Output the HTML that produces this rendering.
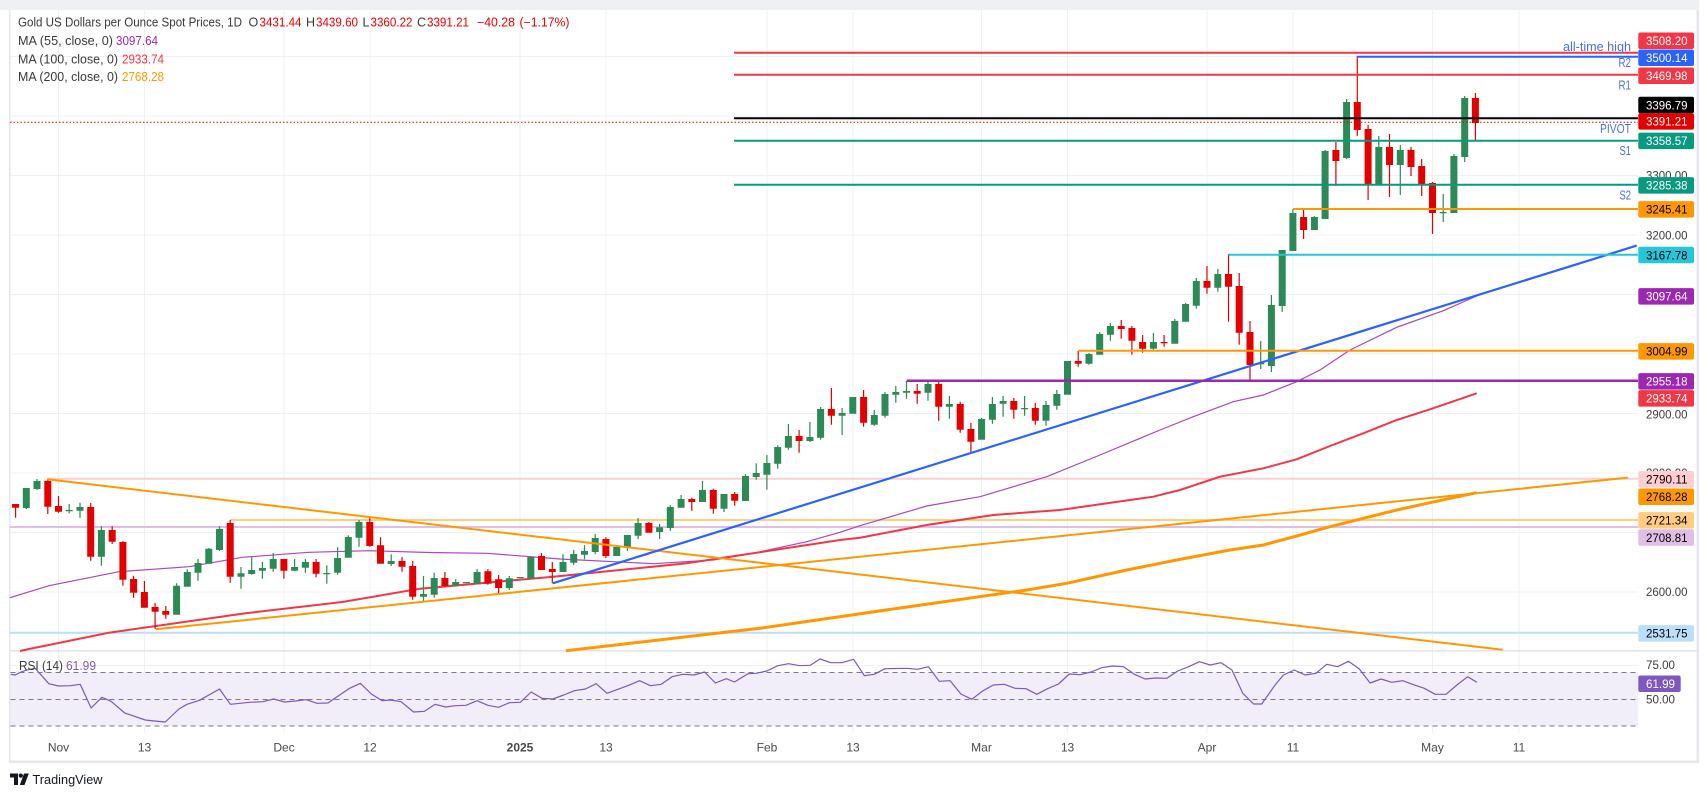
<!DOCTYPE html>
<html><head><meta charset="utf-8">
<style>
html,body{margin:0;padding:0;background:#fff;}
svg{display:block;font-family:"Liberation Sans",Arial,sans-serif;}
</style></head><body>
<svg width="1708" height="797" viewBox="0 0 1708 797" xmlns="http://www.w3.org/2000/svg">
<rect width="1708" height="797" fill="#fff"/>
<!-- frame -->
<rect x="0" y="0" width="1699" height="10" fill="#eef0f4"/>
<rect x="9" y="10" width="1.5" height="752" fill="#e4e7ed"/>
<rect x="1696.5" y="10" width="2.5" height="753" fill="#e4e7ed"/>
<rect x="9" y="760.5" width="1690" height="2.5" fill="#e4e7ed"/>

<!-- grid -->
<path d="M58.5 10V733M144.5 10V733M284 10V733M370 10V733M520 10V733M606 10V733M767 10V733M853 10V733M981.5 10V733M1067.5 10V733M1207 10V733M1293 10V733M1432.5 10V733M1519 10V733" stroke="#eef0f3" stroke-width="1" fill="none"/>
<path d="M10 56.5H1638M10 116H1638M10 175.5H1638M10 235H1638M10 294.5H1638M10 354H1638M10 413.5H1638M10 473H1638M10 532.5H1638M10 592H1638M10 665.5H1638" stroke="#eef0f3" stroke-width="1" fill="none"/>

<!-- RSI pane -->
<rect x="10.5" y="672.3" width="1627.5" height="53.7" fill="#f1edf9"/>
<path d="M10.5 672.5H1638M10.5 699.5H1638M10.5 726H1638" stroke="#787b86" stroke-width="1" stroke-dasharray="5 4" fill="none"/>
<rect x="10" y="650" width="1688" height="1.5" fill="#e0e3eb"/>
<polyline fill="none" stroke="#7e57c2" stroke-width="1.2" stroke-linejoin="round" points="10.8,674.3 15.2,675 21.7,671.7 29.8,669.3 35.2,668.3 48.8,683.7 58.5,686 70.5,685.7 80.2,684.3 91.1,708 101.9,697.3 111.1,701.3 124.7,713 145.3,720 154.5,721 165.3,722 178.9,709 187,704.3 199.5,700.3 219.5,689 230.4,704.3 249.3,702.3 262.9,701.7 273.7,699 284.6,702 295.4,701 306.2,699.7 317.1,703.3 327.9,703 349.6,688.3 360.4,683.3 371.3,694 382.1,700.7 390.2,700 401.1,701.7 413.6,712 424.4,711.3 435.2,704.3 445.5,707 455.3,705.7 466.1,705.3 477,700.7 487.8,705.3 498.6,707.3 509.5,702.7 520.3,702.3 531.2,692 542,698.3 552.8,699 563.7,695 574.5,690.7 585.4,689 596.2,683.7 607,693.3 617.9,689.3 628.7,685.3 639.6,680.7 650.4,685.7 661.2,684.3 672.1,676.7 682.9,674.3 693.8,675 704.6,672 715.4,683 726.3,678.7 734.4,682 748,673.7 756.1,673.3 766.9,671 777.8,665.7 788.6,663.7 799.5,665.7 810.3,665.3 820,659 830.8,662.7 841.7,662.7 853.6,659.3 864.4,675.7 874.2,674.3 885,668.7 906.7,668.3 917.6,669.3 928.4,666.7 939.2,681.3 950.1,680.7 960.9,694 971.8,699.3 982.6,691 993.4,685 1004.3,684.3 1015.1,688.3 1026,688.7 1036.8,694.3 1047.6,688.7 1058.5,684 1069.3,674 1080.2,674.7 1091,672 1101.8,667.7 1112.7,666 1123.5,666.7 1134.4,674.3 1145.2,679 1156,678 1166.9,678.3 1177.7,671 1188.6,666.7 1199.4,661.7 1210.2,665 1221.1,662.7 1231.9,670 1242.8,693.3 1253.6,704 1261.7,704 1275.3,684.7 1283.4,675 1294.3,670 1305.1,675 1315.9,673.3 1326.8,664.3 1337.6,666.7 1348.5,661.3 1359.3,669 1370.1,683 1381,679 1391.8,682.3 1402.7,680.7 1413.5,684.7 1424.3,688.3 1435.2,694.3 1446,694.3 1456.9,685 1467.7,676.7 1476.9,682.3"/>

<!-- light horizontal levels -->
<line x1="10" y1="527" x2="1638" y2="527" stroke="#e1bee7" stroke-width="2"/>
<line x1="10" y1="632.7" x2="1638" y2="632.7" stroke="#bbdefb" stroke-width="2"/>
<line x1="47.3" y1="478.7" x2="1638" y2="478.7" stroke="#fbcfd2" stroke-width="2"/>
<line x1="230" y1="520" x2="1638" y2="520" stroke="#ffcc80" stroke-width="2"/>

<!-- moving averages -->
<polyline fill="none" stroke="#ab47bc" stroke-width="1.2" points="10,597.7 49,585.7 119,571.7 189,566.7 242.3,557.3 309,552.3 369,550.7 429,552.5 486.7,553.3 560,559 653.3,563.7 713.3,560 753.3,553.3 806.7,541.7 840,532.3 860,525.7 926.7,506 980,496.7 1046.7,476.7 1100,455 1160,430 1193.3,416.7 1233.3,401.7 1263.3,395 1296.7,381.7 1320,370 1350,350 1396.7,327.3 1443.3,310.7 1476.7,296"/>
<polyline fill="none" stroke="#f23645" stroke-width="2" points="20,651 29,649 109,632.7 242,613.7 342.3,602 420,588.7 553.3,576.7 686.7,563.3 840,540 860,537.7 926.7,525 993.3,515 1060,510 1153.3,496.7 1180,490 1220,476.7 1263.3,468.3 1296.7,459.3 1330,446 1363.3,433.3 1396.7,420 1430,409.3 1476.7,393.3"/>
<polyline fill="none" stroke="#ff9800" stroke-width="3" points="566,650.7 762,628 900,608 1026.7,590 1066.7,583.3 1126.7,570 1176.7,560 1230,550 1263.3,545 1296.7,536 1330,526.7 1363.3,518.3 1396.7,510 1430,502.7 1476.7,492.7"/>

<!-- candles (green) -->
<path fill="#2b8a55" d="M25.7 488h1.2V509h-1.2zM22.8 488h7V508h-7zM36.4 479h1.2V490h-1.2zM33.5 481h7V489h-7zM68.6 504h1.2V513.3h-1.2zM65.7 510h7V511.2h-7zM79.4 502.7h1.2V517.7h-1.2zM76.5 507h7V510.7h-7zM100.8 526.3h1.2V565.7h-1.2zM97.9 530h7V556.7h-7zM176 583.3h1.2V614.7h-1.2zM173.1 585.7h7V614.7h-7zM186.7 569.3h1.2V586.7h-1.2zM183.8 572h7V586.7h-7zM197.4 559h1.2V580.7h-1.2zM194.5 563h7V572.7h-7zM208.2 548h1.2V563.7h-1.2zM205.3 548.7h7V563.7h-7zM218.9 526.3h1.2V551h-1.2zM216 529h7V550h-7zM240.4 567h1.2V588.7h-1.2zM237.5 573.3h7V576.7h-7zM251.1 557.3h1.2V574.7h-1.2zM248.2 570h7V574h-7zM261.8 562h1.2V578.7h-1.2zM258.9 568h7V570.7h-7zM272.6 553h1.2V571.7h-1.2zM269.7 559h7V568.7h-7zM294 559h1.2V571.3h-1.2zM291.1 567h7V570.7h-7zM304.8 559h1.2V572.7h-1.2zM301.9 562h7V567.7h-7zM326.2 565.3h1.2V583.7h-1.2zM323.3 573h7V574.2h-7zM337 547.3h1.2V574.7h-1.2zM334.1 558h7V572.7h-7zM347.7 535.3h1.2V557.7h-1.2zM344.8 537h7V557.7h-7zM358.4 520h1.2V546.7h-1.2zM355.5 522h7V537.7h-7zM390.6 554.3h1.2V566h-1.2zM387.7 561h7V564h-7zM422.9 576h1.2V601.7h-1.2zM420 594h7V596.7h-7zM433.6 572.7h1.2V597.7h-1.2zM430.7 578h7V594.7h-7zM455.1 579.3h1.2V585.7h-1.2zM452.2 582h7V585.7h-7zM465.8 582h1.2V583h-1.2zM462.9 582h7V583.2h-7zM476.5 569h1.2V583.7h-1.2zM473.6 572h7V583.7h-7zM508.7 576h1.2V590h-1.2zM505.8 578.3h7V588h-7zM519.5 577h1.2V578.3h-1.2zM516.6 577h7V578.3h-7zM530.2 556.3h1.2V578.7h-1.2zM527.3 557h7V578.7h-7zM562.4 554.3h1.2V572h-1.2zM559.5 562h7V572h-7zM573.1 550h1.2V564.7h-1.2zM570.2 554h7V562.7h-7zM583.9 545.3h1.2V559.3h-1.2zM581 551h7V554.7h-7zM594.6 534h1.2V554h-1.2zM591.7 538h7V552h-7zM616.1 547h1.2V556h-1.2zM613.2 547h7V556h-7zM626.8 535h1.2V551h-1.2zM623.9 535h7V547.7h-7zM637.5 518h1.2V539h-1.2zM634.6 523h7V535.7h-7zM659 524h1.2V539h-1.2zM656.1 527.3h7V532h-7zM669.7 505.3h1.2V531h-1.2zM666.8 507h7V528h-7zM680.5 495h1.2V507.7h-1.2zM677.6 499h7V507.7h-7zM701.9 481h1.2V502h-1.2zM699 490h7V502h-7zM723.4 494h1.2V512h-1.2zM720.5 494h7V508.7h-7zM744.9 474.3h1.2V501h-1.2zM742 476h7V501h-7zM755.6 463.3h1.2V479.7h-1.2zM752.7 473h7V477h-7zM766.3 455h1.2V489.7h-1.2zM763.4 463h7V474.7h-7zM777.1 445.3h1.2V468.7h-1.2zM774.2 447h7V463.7h-7zM787.8 424h1.2V449.7h-1.2zM784.9 436h7V447.7h-7zM809.3 422h1.2V442h-1.2zM806.4 437h7V441h-7zM820 407h1.2V439.7h-1.2zM817.1 409h7V437.7h-7zM841.5 408h1.2V435h-1.2zM838.6 413h7V415.7h-7zM852.2 397h1.2V413.7h-1.2zM849.3 397h7V413.7h-7zM873.7 410h1.2V425.7h-1.2zM870.8 415h7V424.7h-7zM884.4 392h1.2V417.7h-1.2zM881.5 394h7V415.7h-7zM895.2 386h1.2V402.7h-1.2zM892.3 392h7V394.7h-7zM905.9 381h1.2V398.7h-1.2zM903 391h7V392.7h-7zM927.4 381h1.2V400.7h-1.2zM924.5 384h7V392.7h-7zM948.8 396h1.2V418.7h-1.2zM945.9 404h7V406.7h-7zM981 418h1.2V439.7h-1.2zM978.1 419h7V439.7h-7zM991.8 397h1.2V423.7h-1.2zM988.9 404h7V419.7h-7zM1002.5 396h1.2V416.7h-1.2zM999.6 401h7V403.7h-7zM1024 396h1.2V415.7h-1.2zM1021.1 408h7V409.2h-7zM1045.4 401h1.2V425.7h-1.2zM1042.5 405h7V420.7h-7zM1056.2 390h1.2V409.7h-1.2zM1053.3 394h7V405.7h-7zM1066.9 361h1.2V394.7h-1.2zM1064 361h7V394.7h-7zM1088.4 353h1.2V364.7h-1.2zM1085.5 354h7V363.7h-7zM1099.1 332h1.2V354.7h-1.2zM1096.2 334h7V354.7h-7zM1109.8 323h1.2V340.7h-1.2zM1106.9 326h7V334.7h-7zM1152.8 333h1.2V349.7h-1.2zM1149.9 342h7V348.7h-7zM1174.2 319h1.2V343.7h-1.2zM1171.3 321h7V343.7h-7zM1185 303h1.2V321.7h-1.2zM1182.1 304h7V321.7h-7zM1195.7 278h1.2V308.7h-1.2zM1192.8 281h7V305.7h-7zM1217.2 269h1.2V291.7h-1.2zM1214.3 274h7V287.7h-7zM1260.1 341h1.2V369h-1.2zM1257.2 363h7V364.3h-7zM1270.8 295h1.2V372h-1.2zM1267.9 305h7V366h-7zM1281.6 250h1.2V312h-1.2zM1278.7 250h7V306h-7zM1292.3 209h1.2V251h-1.2zM1289.4 213h7V251h-7zM1313.8 216h1.2V230h-1.2zM1310.9 217h7V230h-7zM1324.5 150h1.2V219h-1.2zM1321.6 151h7V219h-7zM1346 99h1.2V159h-1.2zM1343.1 102h7V158h-7zM1378.2 136h1.2V184h-1.2zM1375.3 147h7V184h-7zM1399.7 145h1.2V195h-1.2zM1396.8 150h7V165h-7zM1442.6 194h1.2V222h-1.2zM1439.7 212h7V213.2h-7zM1453.3 154h1.2V213h-1.2zM1450.4 156h7V213h-7zM1464.1 96h1.2V162h-1.2zM1461.2 98h7V157h-7z"/>
<!-- candles (red) -->
<path fill="#e50000" d="M15 504h1.2V517.7h-1.2zM12.1 504h7V507.7h-7zM47.2 479h1.2V514h-1.2zM44.3 481h7V506.7h-7zM57.9 496h1.2V512.7h-1.2zM55 506h7V511.7h-7zM90.1 503h1.2V560.7h-1.2zM87.2 507h7V556.7h-7zM111.6 526.3h1.2V544h-1.2zM108.7 530h7V541.7h-7zM122.3 541h1.2V585.7h-1.2zM119.4 542h7V579.7h-7zM133 575.7h1.2V597.7h-1.2zM130.1 579h7V592.7h-7zM143.8 581h1.2V607.7h-1.2zM140.9 592h7V607.7h-7zM154.5 603h1.2V629h-1.2zM151.6 607h7V611.7h-7zM165.2 606h1.2V618.7h-1.2zM162.3 611h7V614.7h-7zM229.6 520h1.2V582.7h-1.2zM226.7 523h7V576.7h-7zM283.3 559h1.2V578.7h-1.2zM280.4 559h7V570.7h-7zM315.5 559h1.2V577.3h-1.2zM312.6 562h7V573.7h-7zM369.2 517.3h1.2V546.7h-1.2zM366.3 522h7V546h-7zM379.9 537.3h1.2V563.7h-1.2zM377 545.3h7V563.7h-7zM401.4 557h1.2V571.7h-1.2zM398.5 561h7V566.7h-7zM412.1 561h1.2V599.7h-1.2zM409.2 566h7V596.7h-7zM444.3 572h1.2V586.7h-1.2zM441.4 578h7V586h-7zM487.3 569h1.2V584.7h-1.2zM484.4 571.3h7V583.7h-7zM498 575h1.2V594h-1.2zM495.1 579.3h7V588h-7zM540.9 553h1.2V570h-1.2zM538 556h7V570h-7zM551.7 562h1.2V583.3h-1.2zM548.8 569h7V572h-7zM605.3 537.3h1.2V558h-1.2zM602.4 539h7V556h-7zM648.3 522h1.2V532.7h-1.2zM645.4 523h7V532.7h-7zM691.2 497.7h1.2V510.7h-1.2zM688.3 499h7V502h-7zM712.7 488.7h1.2V513.7h-1.2zM709.8 490h7V508.7h-7zM734.1 492h1.2V505.7h-1.2zM731.2 494h7V500.7h-7zM798.5 430h1.2V452.7h-1.2zM795.6 436h7V441h-7zM830.8 388h1.2V424.7h-1.2zM827.9 409h7V415.7h-7zM863 390h1.2V426.7h-1.2zM860.1 397h7V422.7h-7zM916.6 384h1.2V403.7h-1.2zM913.7 391h7V393.7h-7zM938.1 382h1.2V420.7h-1.2zM935.2 384h7V406.7h-7zM959.6 401.7h1.2V432.7h-1.2zM956.7 404h7V429.7h-7zM970.3 423h1.2V453.7h-1.2zM967.4 429h7V441.7h-7zM1013.2 398h1.2V418.7h-1.2zM1010.3 401h7V409.7h-7zM1034.7 403h1.2V424.7h-1.2zM1031.8 408h7V420.7h-7zM1077.6 351h1.2V366.7h-1.2zM1074.7 361h7V363.7h-7zM1120.6 320h1.2V338.7h-1.2zM1117.7 326h7V329h-7zM1131.3 326h1.2V354.7h-1.2zM1128.4 328h7V340.7h-7zM1142 335h1.2V352.7h-1.2zM1139.1 342h7V348.7h-7zM1163.5 335h1.2V346.7h-1.2zM1160.6 342h7V343.2h-7zM1206.4 266h1.2V293.7h-1.2zM1203.5 281h7V287.7h-7zM1227.9 254h1.2V321.7h-1.2zM1225 274h7V286.7h-7zM1238.6 273h1.2V344.7h-1.2zM1235.7 286h7V332.7h-7zM1249.4 321h1.2V380h-1.2zM1246.5 332h7V365h-7zM1303 208h1.2V239h-1.2zM1300.1 217h7V230h-7zM1335.3 142h1.2V186h-1.2zM1332.4 150h7V161h-7zM1356.7 56h1.2V136h-1.2zM1353.8 102h7V130h-7zM1367.5 125h1.2V200h-1.2zM1364.6 129h7V184h-7zM1388.9 134h1.2V197h-1.2zM1386 147h7V165h-7zM1410.4 147h1.2V176h-1.2zM1407.5 150h7V167h-7zM1421.1 159h1.2V196h-1.2zM1418.2 166h7V184h-7zM1431.9 182h1.2V234h-1.2zM1429 183h7V213h-7zM1474.8 93h1.2V140h-1.2zM1471.9 98h7V123h-7z"/>

<!-- trend lines -->
<line x1="47.3" y1="479.3" x2="1502.7" y2="649.7" stroke="#ff9800" stroke-width="2"/>
<line x1="155.7" y1="629.3" x2="1628" y2="477.6" stroke="#ff9800" stroke-width="2"/>
<line x1="552.7" y1="583.3" x2="1636.7" y2="245.6" stroke="#2962ff" stroke-width="2.2"/>

<!-- horizontal levels -->
<line x1="734" y1="52.7" x2="1638" y2="52.7" stroke="#f23645" stroke-width="2"/>
<line x1="1357.3" y1="56.7" x2="1638" y2="56.7" stroke="#2962ff" stroke-width="2"/>
<line x1="734" y1="74.7" x2="1638" y2="74.7" stroke="#f23645" stroke-width="2"/>
<line x1="734" y1="118.3" x2="1638" y2="118.3" stroke="#000" stroke-width="2"/>
<line x1="10" y1="122.3" x2="1638" y2="122.3" stroke="#e50000" stroke-width="1" stroke-dasharray="1.5 2"/>
<line x1="734" y1="140.7" x2="1638" y2="140.7" stroke="#089981" stroke-width="2"/>
<line x1="734" y1="184.7" x2="1638" y2="184.7" stroke="#089981" stroke-width="2"/>
<line x1="1293" y1="209" x2="1638" y2="209" stroke="#ff9800" stroke-width="2"/>
<line x1="1228.5" y1="254.7" x2="1638" y2="254.7" stroke="#26c6da" stroke-width="2"/>
<line x1="1078.3" y1="350.7" x2="1638" y2="350.7" stroke="#ff9800" stroke-width="2"/>
<line x1="906.7" y1="380.7" x2="1638" y2="380.7" stroke="#9c27b0" stroke-width="2.5"/>

<!-- annotations -->
<g fill="#4670e6" font-size="13" text-anchor="end">
<text x="1631" y="51.2" textLength="68" lengthAdjust="spacingAndGlyphs">all-time high</text>
<text x="1631" y="67.2" textLength="12.5" lengthAdjust="spacingAndGlyphs">R2</text>
<text x="1631" y="89.5" textLength="12.5" lengthAdjust="spacingAndGlyphs">R1</text>
<text x="1631" y="132.8" textLength="31" lengthAdjust="spacingAndGlyphs">PIVOT</text>
<text x="1631" y="155.2" textLength="11.5" lengthAdjust="spacingAndGlyphs">S1</text>
<text x="1631" y="199.5" textLength="11.5" lengthAdjust="spacingAndGlyphs">S2</text>
</g>

<!-- price scale gray labels -->
<g fill="#3d3d3d" font-size="12">
<text x="1646" y="179.6" textLength="41.5" lengthAdjust="spacingAndGlyphs">3300.00</text>
<text x="1646" y="239.6" textLength="41.5" lengthAdjust="spacingAndGlyphs">3200.00</text>
<text x="1646" y="418.3" textLength="41.5" lengthAdjust="spacingAndGlyphs">2900.00</text>
<text x="1646" y="476.8" textLength="41.5" lengthAdjust="spacingAndGlyphs">2800.00</text>
<text x="1646" y="596" textLength="41.5" lengthAdjust="spacingAndGlyphs">2600.00</text>
<text x="1646" y="668.8" textLength="29" lengthAdjust="spacingAndGlyphs">75.00</text>
<text x="1646" y="703.6" textLength="29" lengthAdjust="spacingAndGlyphs">50.00</text>
</g>

<!-- price boxes -->
<g font-size="12">
<rect x="1638.3" y="32.5" width="55.7" height="16.5" rx="2" fill="#f23645"/><text x="1646" y="45" fill="#fff" textLength="41.5" lengthAdjust="spacingAndGlyphs">3508.20</text>
<rect x="1638.3" y="49.5" width="55.7" height="16.5" rx="2" fill="#2962ff"/><text x="1646" y="62" fill="#fff" textLength="41.5" lengthAdjust="spacingAndGlyphs">3500.14</text>
<rect x="1638.3" y="67.5" width="55.7" height="16.5" rx="2" fill="#f23645"/><text x="1646" y="80" fill="#fff" textLength="41.5" lengthAdjust="spacingAndGlyphs">3469.98</text>
<rect x="1638.3" y="96.8" width="55.7" height="16.5" rx="2" fill="#000"/><text x="1646" y="109.3" fill="#fff" textLength="41.5" lengthAdjust="spacingAndGlyphs">3396.79</text>
<rect x="1638.3" y="113.1" width="55.7" height="16.5" rx="2" fill="#e50000"/><text x="1646" y="125.6" fill="#fff" textLength="41.5" lengthAdjust="spacingAndGlyphs">3391.21</text>
<rect x="1638.3" y="132.6" width="55.7" height="16.5" rx="2" fill="#089981"/><text x="1646" y="145.1" fill="#fff" textLength="41.5" lengthAdjust="spacingAndGlyphs">3358.57</text>
<rect x="1638.3" y="177.1" width="55.7" height="16.5" rx="2" fill="#089981"/><text x="1646" y="189.6" fill="#fff" textLength="41.5" lengthAdjust="spacingAndGlyphs">3285.38</text>
<rect x="1638.3" y="201.1" width="55.7" height="16.5" rx="2" fill="#ff9800"/><text x="1646" y="213.6" fill="#000" textLength="41.5" lengthAdjust="spacingAndGlyphs">3245.41</text>
<rect x="1638.3" y="246.8" width="55.7" height="16.5" rx="2" fill="#26c6da"/><text x="1646" y="259.3" fill="#000" textLength="41.5" lengthAdjust="spacingAndGlyphs">3167.78</text>
<rect x="1638.3" y="288.1" width="55.7" height="16.5" rx="2" fill="#9c27b0"/><text x="1646" y="300.6" fill="#fff" textLength="41.5" lengthAdjust="spacingAndGlyphs">3097.64</text>
<rect x="1638.3" y="343.1" width="55.7" height="16.5" rx="2" fill="#ff9800"/><text x="1646" y="355.6" fill="#000" textLength="41.5" lengthAdjust="spacingAndGlyphs">3004.99</text>
<rect x="1638.3" y="373.1" width="55.7" height="16.5" rx="2" fill="#9c27b0"/><text x="1646" y="385.6" fill="#fff" textLength="41.5" lengthAdjust="spacingAndGlyphs">2955.18</text>
<rect x="1638.3" y="390.1" width="55.7" height="16.5" rx="2" fill="#f23645"/><text x="1646" y="402.6" fill="#fff" textLength="41.5" lengthAdjust="spacingAndGlyphs">2933.74</text>
<rect x="1638.3" y="471" width="55.7" height="16.5" rx="2" fill="#ffcdd2"/><text x="1646" y="483.5" fill="#000" textLength="41.5" lengthAdjust="spacingAndGlyphs">2790.11</text>
<rect x="1638.3" y="488.5" width="55.7" height="16.5" rx="2" fill="#ff9800"/><text x="1646" y="501" fill="#000" textLength="41.5" lengthAdjust="spacingAndGlyphs">2768.28</text>
<rect x="1638.3" y="512.1" width="55.7" height="16.5" rx="2" fill="#ffcc80"/><text x="1646" y="524.6" fill="#000" textLength="41.5" lengthAdjust="spacingAndGlyphs">2721.34</text>
<rect x="1638.3" y="529.3" width="55.7" height="16.5" rx="2" fill="#e1bee7"/><text x="1646" y="541.8" fill="#000" textLength="41.5" lengthAdjust="spacingAndGlyphs">2708.81</text>
<rect x="1638.3" y="625.1" width="55.7" height="16.5" rx="2" fill="#bbdefb"/><text x="1646" y="637.6" fill="#000" textLength="41.5" lengthAdjust="spacingAndGlyphs">2531.75</text>
<rect x="1638.3" y="675.5" width="42.4" height="16.5" rx="2" fill="#7e57c2"/><text x="1646" y="688" fill="#fff" textLength="29" lengthAdjust="spacingAndGlyphs">61.99</text>
</g>

<!-- legend -->
<g font-size="12.5" fill="#3a3a3a">
<text x="18" y="26.5" textLength="224" lengthAdjust="spacingAndGlyphs">Gold US Dollars per Ounce Spot Prices, 1D</text>
<text x="248.5" y="26.5">O</text><text x="259.5" y="26.5" fill="#f00000" textLength="42" lengthAdjust="spacingAndGlyphs">3431.44</text>
<text x="306" y="26.5">H</text><text x="316" y="26.5" fill="#f00000" textLength="42" lengthAdjust="spacingAndGlyphs">3439.60</text>
<text x="362.5" y="26.5">L</text><text x="370.5" y="26.5" fill="#f00000" textLength="42" lengthAdjust="spacingAndGlyphs">3360.22</text>
<text x="417" y="26.5">C</text><text x="427" y="26.5" fill="#f00000" textLength="42" lengthAdjust="spacingAndGlyphs">3391.21</text>
<text x="477" y="26.5" fill="#f00000" textLength="38" lengthAdjust="spacingAndGlyphs">−40.28</text>
<text x="519.5" y="26.5" fill="#f00000" textLength="50" lengthAdjust="spacingAndGlyphs">(−1.17%)</text>
<text x="18" y="45" textLength="95" lengthAdjust="spacingAndGlyphs">MA (55, close, 0)</text>
<text x="116" y="45" fill="#9c27b0" textLength="42" lengthAdjust="spacingAndGlyphs">3097.64</text>
<text x="18" y="63.3" textLength="100" lengthAdjust="spacingAndGlyphs">MA (100, close, 0)</text>
<text x="122" y="63.3" fill="#f23645" textLength="42" lengthAdjust="spacingAndGlyphs">2933.74</text>
<text x="18" y="81" textLength="100" lengthAdjust="spacingAndGlyphs">MA (200, close, 0)</text>
<text x="122" y="81" fill="#ff9800" textLength="42" lengthAdjust="spacingAndGlyphs">2768.28</text>
</g>
<g font-size="12.5" fill="#3a3a3a">
<text x="19" y="670" textLength="44" lengthAdjust="spacingAndGlyphs">RSI (14)</text>
<text x="66" y="670" fill="#7e57c2" textLength="30" lengthAdjust="spacingAndGlyphs">61.99</text>
</g>

<!-- x axis -->
<g font-size="12" fill="#4a4a4a" text-anchor="middle">
<text x="58.5" y="751.5">Nov</text>
<text x="144.5" y="751.5">13</text>
<text x="284" y="751.5">Dec</text>
<text x="370" y="751.5">12</text>
<text x="520" y="751.5" font-weight="bold">2025</text>
<text x="606" y="751.5">13</text>
<text x="767" y="751.5">Feb</text>
<text x="853" y="751.5">13</text>
<text x="981.5" y="751.5">Mar</text>
<text x="1067.5" y="751.5">13</text>
<text x="1207" y="751.5">Apr</text>
<text x="1293" y="751.5">11</text>
<text x="1432.5" y="751.5">May</text>
<text x="1519" y="751.5">11</text>
</g>

<!-- TradingView logo -->
<path d="M10 773.5H18V785H14V777.5H10Z" fill="#131722"/>
<circle cx="20.8" cy="775.6" r="2.1" fill="#131722"/>
<polygon points="24,773.5 28.8,773.5 24.5,785 19.8,785" fill="#131722"/>
<text x="32.5" y="784" font-size="13" fill="#131722" textLength="70" lengthAdjust="spacingAndGlyphs">TradingView</text>
</svg>
</body></html>
